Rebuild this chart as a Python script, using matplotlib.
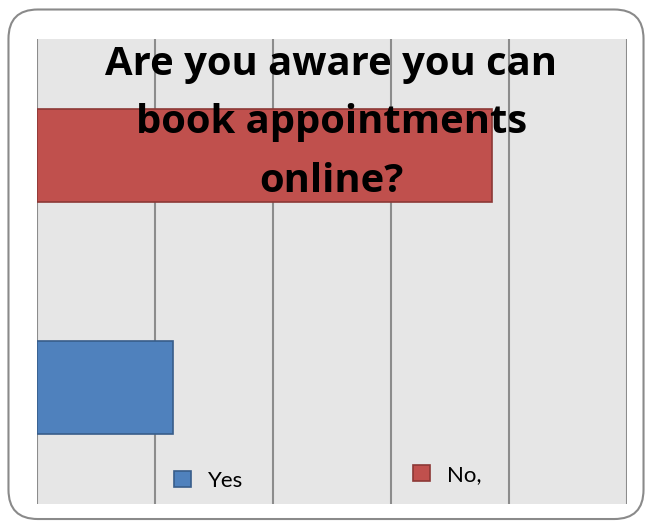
import matplotlib.pyplot as plt
from matplotlib.patches import FancyBboxPatch

categories = ["Yes", "No,"]
values = [11.5, 38.6]
colors = ["#4f81bd", "#c0504d"]
edges = ["#385d8a", "#8c3836"]
title_lines = ["Are you aware you can", "book appointments", "online?"]

fig = plt.figure(figsize=(6.52, 5.28), dpi=100)

# rounded outer frame, kept behind the axes
frame = FancyBboxPatch((0.013, 0.017), 0.974, 0.965, boxstyle="round,pad=0,rounding_size=0.045",
                       transform=fig.transFigure, facecolor="white", edgecolor="#8a8a8a",
                       linewidth=1.5, mutation_aspect=652 / 528, zorder=-1)
fig.patches.append(frame)

ax = fig.add_axes([0.0567, 0.0455, 0.905, 0.8807])
ax.set_facecolor("#e6e6e6")
bars = ax.barh([0, 1], values, height=0.4, color=colors, edgecolor=edges, linewidth=1.2, zorder=3)
ax.set_xlim(0, 50)
ax.set_ylim(-0.5, 1.5)
ax.set_xticks(range(0, 51, 10))
ax.xaxis.grid(True, color="#8c8c8c", linewidth=1.5, zorder=1)
ax.tick_params(length=0, labelbottom=False, labelleft=False)
for s in ax.spines.values():
    s.set_visible(False)

# legend entries sit at slightly different heights in the original
leg_pos = [(174 / 652, 1 - 481 / 528), (413 / 652, 1 - 475 / 528)]
legs = []
for bar, name, pos in zip(bars, categories, leg_pos):
    leg = ax.legend([bar], [name], loc="center left", bbox_to_anchor=pos,
                    bbox_transform=fig.transFigure, frameon=False,
                    prop={"family": "Lato", "size": 16},
                    handlelength=0.76, handleheight=0.76, handletextpad=0.76,
                    borderpad=0, borderaxespad=0)
    legs.append(leg)
ax.add_artist(legs[0])

baselines = [75, 133, 192]
for line, yb in zip(title_lines, baselines):
    fig.text(0.508, 1 - yb / 528, line, ha="center", va="baseline",
             fontsize=28.8, fontweight="bold", family="Open Sans", zorder=10)

fig.savefig("out.png", dpi=100)
